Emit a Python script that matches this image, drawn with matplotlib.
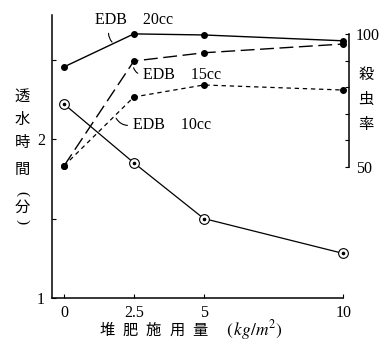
import numpy as np
import matplotlib
matplotlib.use('Agg')
import matplotlib.pyplot as plt

plt.rcParams['font.family'] = ['Liberation Serif', 'Noto Sans CJK JP']
plt.rcParams['mathtext.fontset'] = 'stix'

# Data
compost = [0, 2.5, 5, 10]               # 堆肥施用量 (kg/m2)
perc_time = [2.22, 1.85, 1.50, 1.28]    # 透水時間 (分), left axis
edb_20 = [87.6, 100.0, 99.6, 97.4]      # 殺虫率 (%), right axis
edb_15 = [50.4, 89.8, 92.9, 96.2]
edb_10 = [50.4, 76.3, 80.8, 78.9]

xticks = [0, 2.5, 5, 10]
xticklabels = ['0', '2.5', '5', '10']
lticks = [1, 1.5, 2, 2.5]
lticklabels = ['1', '', '2', '']
rticks = [50, 60, 70, 80, 90, 100]
rticklabels = ['50', '', '', '', '', '100']

W, H = 388, 345


def main():
    fig = plt.figure(figsize=(W / 100, H / 100), dpi=100)
    ax = fig.add_axes([52 / W, 47 / H, 297 / W, 283 / H])
    ax2 = ax.twinx()

    ax.set_xlim(-0.43, 10.2)
    ax.set_ylim(1, 2.78)
    ax2.set_ylim(0.75, 107.1)

    # percolation time (open circles)
    ax.plot(compost, perc_time, color='k', lw=0.9, marker='o', ms=7,
            mfc='white', mec='k', mew=0.8, zorder=3)
    ax.plot(compost, perc_time, ls='none', marker='o', ms=1.6, color='k', zorder=4)

    # kill rate
    ax2.plot(compost, edb_20, color='k', lw=1.0, marker='o', ms=4)
    l15, = ax2.plot(compost, edb_15, color='k', lw=1.0, marker='o', ms=4)
    l15.set_dashes([10, 4])
    l10, = ax2.plot(compost, edb_10, color='k', lw=0.9, marker='o', ms=4)
    l10.set_dashes([3.5, 3])

    # labels with small leader lines
    arrow = dict(arrowstyle='-', lw=0.8, color='k')
    ax2.annotate('EDB    20cc', xy=(1.79, 96.2), xytext=(1.11, 105.3),
                 ha='left', va='center', fontsize=11.5,
                 arrowprops=dict(arrow, relpos=(0.2, 0.1),
                                 connectionstyle='arc3,rad=0.4'))
    ax2.annotate('EDB    15cc', xy=(2.47, 88.3), xytext=(2.83, 84.6),
                 ha='left', va='center', fontsize=11.5,
                 arrowprops=dict(arrow, relpos=(0, 0.5),
                                 connectionstyle='arc3,rad=-0.4'))
    ax2.annotate('EDB    10cc', xy=(1.82, 69.2), xytext=(2.47, 65.8),
                 ha='left', va='center', fontsize=11.5,
                 arrowprops=dict(arrow, relpos=(0, 0.5),
                                 connectionstyle='arc3,rad=-0.4'))

    # spines
    for s in ['top', 'right']:
        ax.spines[s].set_visible(False)
    for s in ['top', 'left', 'bottom']:
        ax2.spines[s].set_visible(False)
    ax.spines['bottom'].set_bounds(-0.43, 10)
    ax2.spines['right'].set_bounds(50, 100)
    for sp in [ax.spines['left'], ax.spines['bottom'], ax2.spines['right']]:
        sp.set_linewidth(1.1)

    ax.set_xticks(xticks)
    ax.set_xticklabels(xticklabels)
    ax.set_yticks(lticks)
    ax.set_yticklabels(lticklabels)
    ax2.set_yticks(rticks)
    ax2.set_yticklabels(rticklabels)
    ax.tick_params(direction='in', length=3, width=0.8, labelsize=11.5)
    ax.tick_params(axis='x', pad=5)
    ax.tick_params(axis='y', pad=5)
    ax2.tick_params(direction='in', length=3, width=0.8, labelsize=11.5, pad=5)

    # vertical axis titles
    for ch, y in zip(['透', '水', '時', '間', '分'], [97, 120, 143, 170, 208]):
        fig.text(22 / W, 1 - y / H, ch, ha='center', va='center', fontsize=11)
    fig.text(22 / W, 1 - 194 / H, '(', ha='center', va='center',
             fontsize=11, rotation=-90)
    fig.text(22 / W, 1 - 222 / H, ')', ha='center', va='center',
             fontsize=11, rotation=-90)
    for ch, y in zip(['殺', '虫', '率'], [75, 100, 125]):
        fig.text(366 / W, 1 - y / H, ch, ha='center', va='center', fontsize=11)

    # x axis title, characters spread like the typeset original
    for ch, x in zip(['堆', '肥', '施', '用', '量'], [107, 130, 153, 177, 200]):
        fig.text(x / W, 1 - 331 / H, ch, ha='center', va='center', fontsize=11)
    fig.text(226 / W, 1 - 330 / H, r'$(\,\mathit{kg/m^2})$', ha='left',
             va='center', fontsize=12.5)

    fig.savefig('out.png', dpi=100)


if __name__ == '__main__':
    main()
